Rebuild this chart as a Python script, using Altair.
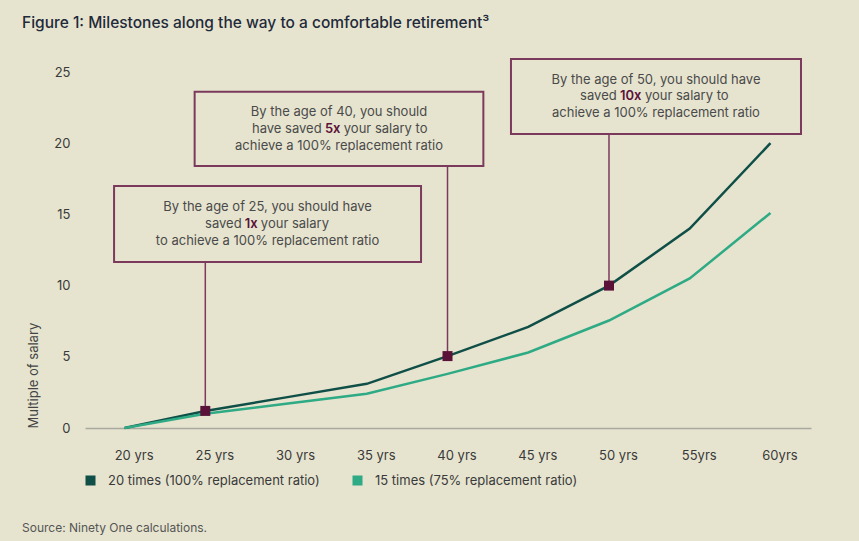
import json
import altair as alt
import pandas as pd

# ---- data -------------------------------------------------------------
ages = [20, 25, 30, 35, 40, 45, 50, 55, 60]
age_labels = ["20 yrs", "25 yrs", "30 yrs", "35 yrs", "40 yrs", "45 yrs", "50 yrs", "55yrs", "60yrs"]
series_names = ["20 times (100% replacement ratio)", "15 times (75% replacement ratio)"]
full_ratio = [0, 1.2, 2.15, 3.1, 5.05, 7.1, 10.0, 14.0, 20.0]       # 20x salary target
partial_ratio = [0, 1.0, 1.7, 2.4, 3.8, 5.3, 7.55, 10.5, 15.1]     # 15x salary target

milestone_ages = [25, 40, 50]
milestone_lines = [
    ("By the age of 25, you should have", "saved", "1x", "your salary", "to achieve a 100% replacement ratio"),
    ("By the age of 40, you should", "have saved", "5x", "your salary to", "achieve a 100% replacement ratio"),
    ("By the age of 50, you should have", "saved", "10x", "your salary to", "achieve a 100% replacement ratio"),
]

Y_TITLE = "Multiple of salary"

# ---- layout -----------------------------------------------------------
W, H = 726, 356
X_DOMAIN = [17.55, 62.51]
Y_DOMAIN = [0, 25]
PX_PER_YEAR = W / (X_DOMAIN[1] - X_DOMAIN[0])
PX_PER_UNIT = H / (Y_DOMAIN[1] - Y_DOMAIN[0])

# callout boxes in data units: (age left, age right, value bottom, value top)
boxes = [
    (19.35, 38.36, 11.66, 17.0),
    (24.34, 42.22, 18.4, 23.62),
    (43.93, 61.89, 20.65, 25.91),
]
emph_shift_px = [-16.3, -6.3, -25.2]      # horizontal offset of the highlighted word
emph_width_px = {"1x": 12, "5x": 15, "10x": 21}
LINE_GAP_PX = 16.7
SPACE_PX = 3.6

FONT = "Inter"
BG = "#E6E4CF"
DARK = "#0F4F47"
GREEN = "#2EAA84"
PLUM = "#5A1238"
BOX = "#7B3A5C"
TEXT = "#4a4a4a"

X_SCALE = alt.Scale(domain=X_DOMAIN, nice=False, zero=False)
Y_SCALE = alt.Scale(domain=Y_DOMAIN, nice=False)

# ---- tables -----------------------------------------------------------
lines_df = pd.DataFrame(
    [{"age": a, "value": v, "series": series_names[0]} for a, v in zip(ages, full_ratio)]
    + [{"age": a, "value": v, "series": series_names[1]} for a, v in zip(ages, partial_ratio)]
)

marker_df = pd.DataFrame(
    [{"age": a, "value": full_ratio[ages.index(a)]} for a in milestone_ages]
)

box_df = pd.DataFrame(
    [{"x0": b[0], "x1": b[1], "y0": b[2], "y1": b[3]} for b in boxes]
)

connector_df = pd.DataFrame(
    [{"age": a, "top": b[2], "value": full_ratio[ages.index(a)]}
     for a, b in zip(milestone_ages, boxes)]
)

centre_rows, right_rows, left_rows, emph_rows = [], [], [], []
for b, txt, shift in zip(boxes, milestone_lines, emph_shift_px):
    cx = (b[0] + b[1]) / 2
    cy = (b[2] + b[3]) / 2
    gap = LINE_GAP_PX / PX_PER_UNIT
    line_y = [cy + gap, cy, cy - gap]
    first, before, emph, after, last = txt
    centre_rows.append({"x": cx, "y": line_y[0], "t": first})
    centre_rows.append({"x": cx, "y": line_y[2], "t": last})
    ex = cx + shift / PX_PER_YEAR
    half = (emph_width_px[emph] / 2 + SPACE_PX) / PX_PER_YEAR
    emph_rows.append({"x": ex, "y": line_y[1], "t": emph})
    right_rows.append({"x": ex - half, "y": line_y[1], "t": before})
    left_rows.append({"x": ex + half, "y": line_y[1], "t": after})

source_df = pd.DataFrame([{"t": "Source: Ninety One calculations."}])


def xy(xf="age", yf="value"):
    return dict(
        x=alt.X(f"{xf}:Q", scale=X_SCALE, title=None),
        y=alt.Y(f"{yf}:Q", scale=Y_SCALE, title=Y_TITLE),
    )


label_expr = f"{json.dumps(age_labels)}[indexof({json.dumps(ages)}, datum.value)]"

lines = alt.Chart(lines_df).mark_line(strokeWidth=2.5).encode(
    x=alt.X("age:Q", scale=X_SCALE, title=None,
            axis=alt.Axis(values=ages, labelExpr=label_expr, grid=False, ticks=False,
                          domain=True, domainColor="#a9a9a0", domainWidth=1.5,
                          labelPadding=21, labelOffset=9, labelFont=FONT, labelFontSize=13,
                          labelColor="#3a3a3a")),
    y=alt.Y("value:Q", scale=Y_SCALE, title=Y_TITLE,
            axis=alt.Axis(values=[0, 5, 10, 15, 20, 25], grid=False, ticks=False, domain=False,
                          labelPadding=15, labelFont=FONT, labelFontSize=13, labelColor="#3a3a3a",
                          titleFont=FONT, titleFontSize=13,
                          titleFontWeight="normal", titleColor="#444444",
                          titleX=-52, titleY=H, titleAngle=270, titleAlign="left",
                          titleBaseline="middle")),
    color=alt.Color("series:N",
                    scale=alt.Scale(domain=series_names, range=[DARK, GREEN]),
                    sort=series_names,
                    legend=alt.Legend(title=None, orient="none", legendX=-1, legendY=402,
                                      direction="horizontal", symbolType="square",
                                      symbolSize=25, symbolStrokeWidth=5, labelOffset=11,
                                      columnPadding=25, labelLimit=400, labelFont=FONT,
                                      labelFontSize=13, labelColor="#3a3a3a")),
)

connectors = alt.Chart(connector_df).mark_rule(color=BOX, strokeWidth=1.5).encode(
    x=alt.X("age:Q", scale=X_SCALE, title=None),
    y=alt.Y("top:Q", scale=Y_SCALE, title=Y_TITLE),
    y2="value:Q",
)

markers = alt.Chart(marker_df).mark_square(size=100, color=PLUM, opacity=1).encode(**xy())

rects = alt.Chart(box_df).mark_rect(fillOpacity=0, stroke=BOX, strokeWidth=2).encode(
    x=alt.X("x0:Q", scale=X_SCALE, title=None),
    x2="x1:Q",
    y=alt.Y("y0:Q", scale=Y_SCALE, title=Y_TITLE),
    y2="y1:Q",
)

text_style = dict(font=FONT, fontSize=13, color=TEXT, baseline="middle")
t_centre = alt.Chart(pd.DataFrame(centre_rows)).mark_text(align="center", **text_style).encode(
    text="t:N", **xy("x", "y"))
t_right = alt.Chart(pd.DataFrame(right_rows)).mark_text(align="right", **text_style).encode(
    text="t:N", **xy("x", "y"))
t_left = alt.Chart(pd.DataFrame(left_rows)).mark_text(align="left", **text_style).encode(
    text="t:N", **xy("x", "y"))
t_emph = alt.Chart(pd.DataFrame(emph_rows)).mark_text(
    align="center", baseline="middle", font=FONT, fontSize=13, fontWeight=600, color=PLUM
).encode(text="t:N", **xy("x", "y"))

source = alt.Chart(source_df).mark_text(
    align="left", baseline="middle", font=FONT, fontSize=12, color="#555555"
).encode(text="t:N", x=alt.value(-63), y=alt.value(456))

chart = alt.layer(
    lines, connectors, markers, rects, t_centre, t_right, t_left, t_emph, source
).properties(
    width=W,
    height=H,
    background=BG,
    padding={"left": 85, "top": 72, "right": 48, "bottom": 113},
    autosize=alt.AutoSizeParams(type="none"),
    title=alt.Title(
        "Figure 1: Milestones along the way to a comfortable retirement³",
        anchor="start", frame="group", dx=-63, offset=15, baseline="alphabetic",
        font=FONT, fontSize=15.5, fontWeight=500, color="#1f2a3a",
    ),
).configure_view(stroke=None)

chart.save("out.html", embed_options={"renderer": "svg", "actions": False})
